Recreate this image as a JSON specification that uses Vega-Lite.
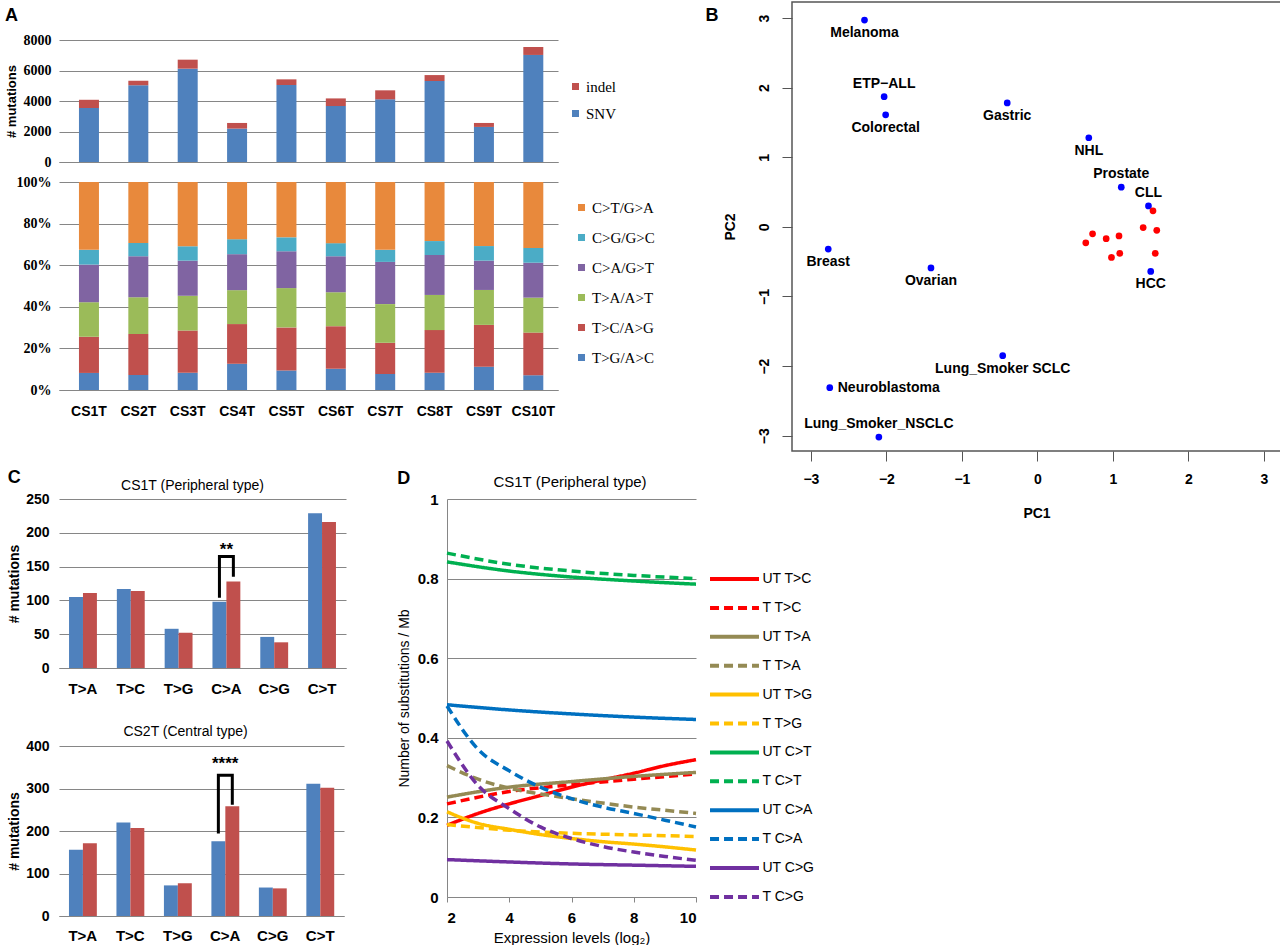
{
  "$schema": "https://vega.github.io/schema/vega-lite/v6.json",
  "background": "white",
  "padding": {"left": 5, "top": 1, "right": 0, "bottom": 0},
  "autosize": {"type": "pad"},
  "config": {
    "font": "Liberation Sans",
    "view": {"stroke": null},
    "axis": {"labelColor": "#000", "titleColor": "#000", "gridColor": "#868686", "domainColor": "#868686", "tickColor": "#868686", "labelFont": "Liberation Sans", "titleFont": "Liberation Sans"},
    "legend": {"labelColor": "#000", "labelFont": "Liberation Sans"},
    "title": {"color": "#000", "font": "Liberation Sans"}
  },
  "datasets": {
    "a_counts": [
      {"sample": "CS1T", "type": "SNV", "n": 3540, "k": 1}, {"sample": "CS1T", "type": "indel", "n": 540, "k": 2},
      {"sample": "CS2T", "type": "SNV", "n": 5030, "k": 1}, {"sample": "CS2T", "type": "indel", "n": 300, "k": 2},
      {"sample": "CS3T", "type": "SNV", "n": 6120, "k": 1}, {"sample": "CS3T", "type": "indel", "n": 590, "k": 2},
      {"sample": "CS4T", "type": "SNV", "n": 2190, "k": 1}, {"sample": "CS4T", "type": "indel", "n": 370, "k": 2},
      {"sample": "CS5T", "type": "SNV", "n": 5050, "k": 1}, {"sample": "CS5T", "type": "indel", "n": 370, "k": 2},
      {"sample": "CS6T", "type": "SNV", "n": 3670, "k": 1}, {"sample": "CS6T", "type": "indel", "n": 500, "k": 2},
      {"sample": "CS7T", "type": "SNV", "n": 4110, "k": 1}, {"sample": "CS7T", "type": "indel", "n": 590, "k": 2},
      {"sample": "CS8T", "type": "SNV", "n": 5310, "k": 1}, {"sample": "CS8T", "type": "indel", "n": 390, "k": 2},
      {"sample": "CS9T", "type": "SNV", "n": 2300, "k": 1}, {"sample": "CS9T", "type": "indel", "n": 260, "k": 2},
      {"sample": "CS10T", "type": "SNV", "n": 7020, "k": 1}, {"sample": "CS10T", "type": "indel", "n": 520, "k": 2}
    ],
    "a_spec": [
      {"sample": "CS1T", "cls": "T>G/A>C", "pct": 8.2, "k": 1}, {"sample": "CS1T", "cls": "T>C/A>G", "pct": 17.4, "k": 2}, {"sample": "CS1T", "cls": "T>A/A>T", "pct": 16.6, "k": 3}, {"sample": "CS1T", "cls": "C>A/G>T", "pct": 18.1, "k": 4}, {"sample": "CS1T", "cls": "C>G/G>C", "pct": 7.1, "k": 5}, {"sample": "CS1T", "cls": "C>T/G>A", "pct": 32.6, "k": 6},
      {"sample": "CS2T", "cls": "T>G/A>C", "pct": 7.2, "k": 1}, {"sample": "CS2T", "cls": "T>C/A>G", "pct": 19.7, "k": 2}, {"sample": "CS2T", "cls": "T>A/A>T", "pct": 17.7, "k": 3}, {"sample": "CS2T", "cls": "C>A/G>T", "pct": 19.7, "k": 4}, {"sample": "CS2T", "cls": "C>G/G>C", "pct": 6.4, "k": 5}, {"sample": "CS2T", "cls": "C>T/G>A", "pct": 29.3, "k": 6},
      {"sample": "CS3T", "cls": "T>G/A>C", "pct": 8.3, "k": 1}, {"sample": "CS3T", "cls": "T>C/A>G", "pct": 20.3, "k": 2}, {"sample": "CS3T", "cls": "T>A/A>T", "pct": 16.7, "k": 3}, {"sample": "CS3T", "cls": "C>A/G>T", "pct": 16.9, "k": 4}, {"sample": "CS3T", "cls": "C>G/G>C", "pct": 6.9, "k": 5}, {"sample": "CS3T", "cls": "C>T/G>A", "pct": 30.9, "k": 6},
      {"sample": "CS4T", "cls": "T>G/A>C", "pct": 12.6, "k": 1}, {"sample": "CS4T", "cls": "T>C/A>G", "pct": 19.1, "k": 2}, {"sample": "CS4T", "cls": "T>A/A>T", "pct": 16.3, "k": 3}, {"sample": "CS4T", "cls": "C>A/G>T", "pct": 17.3, "k": 4}, {"sample": "CS4T", "cls": "C>G/G>C", "pct": 7.2, "k": 5}, {"sample": "CS4T", "cls": "C>T/G>A", "pct": 27.5, "k": 6},
      {"sample": "CS5T", "cls": "T>G/A>C", "pct": 9.4, "k": 1}, {"sample": "CS5T", "cls": "T>C/A>G", "pct": 20.7, "k": 2}, {"sample": "CS5T", "cls": "T>A/A>T", "pct": 18.9, "k": 3}, {"sample": "CS5T", "cls": "C>A/G>T", "pct": 17.7, "k": 4}, {"sample": "CS5T", "cls": "C>G/G>C", "pct": 6.7, "k": 5}, {"sample": "CS5T", "cls": "C>T/G>A", "pct": 26.6, "k": 6},
      {"sample": "CS6T", "cls": "T>G/A>C", "pct": 10.2, "k": 1}, {"sample": "CS6T", "cls": "T>C/A>G", "pct": 20.5, "k": 2}, {"sample": "CS6T", "cls": "T>A/A>T", "pct": 16.3, "k": 3}, {"sample": "CS6T", "cls": "C>A/G>T", "pct": 17.3, "k": 4}, {"sample": "CS6T", "cls": "C>G/G>C", "pct": 6.3, "k": 5}, {"sample": "CS6T", "cls": "C>T/G>A", "pct": 29.4, "k": 6},
      {"sample": "CS7T", "cls": "T>G/A>C", "pct": 7.7, "k": 1}, {"sample": "CS7T", "cls": "T>C/A>G", "pct": 15.0, "k": 2}, {"sample": "CS7T", "cls": "T>A/A>T", "pct": 18.6, "k": 3}, {"sample": "CS7T", "cls": "C>A/G>T", "pct": 20.3, "k": 4}, {"sample": "CS7T", "cls": "C>G/G>C", "pct": 5.8, "k": 5}, {"sample": "CS7T", "cls": "C>T/G>A", "pct": 32.6, "k": 6},
      {"sample": "CS8T", "cls": "T>G/A>C", "pct": 8.3, "k": 1}, {"sample": "CS8T", "cls": "T>C/A>G", "pct": 20.5, "k": 2}, {"sample": "CS8T", "cls": "T>A/A>T", "pct": 16.9, "k": 3}, {"sample": "CS8T", "cls": "C>A/G>T", "pct": 19.2, "k": 4}, {"sample": "CS8T", "cls": "C>G/G>C", "pct": 6.7, "k": 5}, {"sample": "CS8T", "cls": "C>T/G>A", "pct": 28.4, "k": 6},
      {"sample": "CS9T", "cls": "T>G/A>C", "pct": 11.2, "k": 1}, {"sample": "CS9T", "cls": "T>C/A>G", "pct": 20.1, "k": 2}, {"sample": "CS9T", "cls": "T>A/A>T", "pct": 16.8, "k": 3}, {"sample": "CS9T", "cls": "C>A/G>T", "pct": 14.1, "k": 4}, {"sample": "CS9T", "cls": "C>G/G>C", "pct": 7.0, "k": 5}, {"sample": "CS9T", "cls": "C>T/G>A", "pct": 30.8, "k": 6},
      {"sample": "CS10T", "cls": "T>G/A>C", "pct": 7.1, "k": 1}, {"sample": "CS10T", "cls": "T>C/A>G", "pct": 20.5, "k": 2}, {"sample": "CS10T", "cls": "T>A/A>T", "pct": 16.8, "k": 3}, {"sample": "CS10T", "cls": "C>A/G>T", "pct": 16.8, "k": 4}, {"sample": "CS10T", "cls": "C>G/G>C", "pct": 7.1, "k": 5}, {"sample": "CS10T", "cls": "C>T/G>A", "pct": 31.7, "k": 6}
    ],
    "pca": [
      {"name": "Melanoma", "pc1": -2.29, "pc2": 2.97, "grp": "cancer"},
      {"name": "ETP−ALL", "pc1": -2.03, "pc2": 1.87, "grp": "cancer"},
      {"name": "Colorectal", "pc1": -2.01, "pc2": 1.61, "grp": "cancer"},
      {"name": "Gastric", "pc1": -0.40, "pc2": 1.78, "grp": "cancer"},
      {"name": "NHL", "pc1": 0.68, "pc2": 1.28, "grp": "cancer"},
      {"name": "Prostate", "pc1": 1.11, "pc2": 0.57, "grp": "cancer"},
      {"name": "CLL", "pc1": 1.47, "pc2": 0.30, "grp": "cancer"},
      {"name": "Breast", "pc1": -2.77, "pc2": -0.32, "grp": "cancer"},
      {"name": "Ovarian", "pc1": -1.41, "pc2": -0.59, "grp": "cancer"},
      {"name": "HCC", "pc1": 1.50, "pc2": -0.64, "grp": "cancer"},
      {"name": "Lung_Smoker SCLC", "pc1": -0.46, "pc2": -1.85, "grp": "cancer"},
      {"name": "Neuroblastoma", "pc1": -2.75, "pc2": -2.31, "grp": "cancer"},
      {"name": "Lung_Smoker_NSCLC", "pc1": -2.10, "pc2": -3.02, "grp": "cancer"},
      {"name": "", "pc1": 1.53, "pc2": 0.23, "grp": "CS"},
      {"name": "", "pc1": 1.40, "pc2": -0.01, "grp": "CS"},
      {"name": "", "pc1": 1.58, "pc2": -0.05, "grp": "CS"},
      {"name": "", "pc1": 0.73, "pc2": -0.10, "grp": "CS"},
      {"name": "", "pc1": 0.64, "pc2": -0.23, "grp": "CS"},
      {"name": "", "pc1": 0.91, "pc2": -0.17, "grp": "CS"},
      {"name": "", "pc1": 1.08, "pc2": -0.13, "grp": "CS"},
      {"name": "", "pc1": 1.56, "pc2": -0.38, "grp": "CS"},
      {"name": "", "pc1": 0.98, "pc2": -0.44, "grp": "CS"},
      {"name": "", "pc1": 1.09, "pc2": -0.38, "grp": "CS"}
    ],
    "c1": [
      {"cat": "T>A", "grp": "UT", "n": 105}, {"cat": "T>A", "grp": "T", "n": 111},
      {"cat": "T>C", "grp": "UT", "n": 117}, {"cat": "T>C", "grp": "T", "n": 114},
      {"cat": "T>G", "grp": "UT", "n": 58}, {"cat": "T>G", "grp": "T", "n": 52},
      {"cat": "C>A", "grp": "UT", "n": 98}, {"cat": "C>A", "grp": "T", "n": 128},
      {"cat": "C>G", "grp": "UT", "n": 46}, {"cat": "C>G", "grp": "T", "n": 38},
      {"cat": "C>T", "grp": "UT", "n": 229}, {"cat": "C>T", "grp": "T", "n": 216}
    ],
    "c1_br": [
      {"cat": "C>A", "grp": "UT", "n": 104, "s": 1}, {"cat": "C>A", "grp": "UT", "n": 165, "s": 2},
      {"cat": "C>A", "grp": "T", "n": 165, "s": 3}, {"cat": "C>A", "grp": "T", "n": 135, "s": 4}
    ],
    "c1_star": [{"cat": "C>A", "n": 167, "label": "**"}],
    "c2": [
      {"cat": "T>A", "grp": "UT", "n": 156}, {"cat": "T>A", "grp": "T", "n": 171},
      {"cat": "T>C", "grp": "UT", "n": 220}, {"cat": "T>C", "grp": "T", "n": 207},
      {"cat": "T>G", "grp": "UT", "n": 72}, {"cat": "T>G", "grp": "T", "n": 77},
      {"cat": "C>A", "grp": "UT", "n": 176}, {"cat": "C>A", "grp": "T", "n": 258},
      {"cat": "C>G", "grp": "UT", "n": 67}, {"cat": "C>G", "grp": "T", "n": 65},
      {"cat": "C>T", "grp": "UT", "n": 311}, {"cat": "C>T", "grp": "T", "n": 302}
    ],
    "c2_br": [
      {"cat": "C>A", "grp": "UT", "n": 194, "s": 1}, {"cat": "C>A", "grp": "UT", "n": 331, "s": 2},
      {"cat": "C>A", "grp": "T", "n": 331, "s": 3}, {"cat": "C>A", "grp": "T", "n": 262, "s": 4}
    ],
    "c2_star": [{"cat": "C>A", "n": 346, "label": "****"}],
    "d_lines": [
      {"series": "UT T>C", "x": 2, "y": 0.18}, {"series": "UT T>C", "x": 3, "y": 0.21}, {"series": "UT T>C", "x": 4, "y": 0.234}, {"series": "UT T>C", "x": 5, "y": 0.255}, {"series": "UT T>C", "x": 6, "y": 0.276}, {"series": "UT T>C", "x": 7, "y": 0.294}, {"series": "UT T>C", "x": 8, "y": 0.311}, {"series": "UT T>C", "x": 9, "y": 0.33}, {"series": "UT T>C", "x": 10, "y": 0.345},
      {"series": "T T>C", "x": 2, "y": 0.234}, {"series": "T T>C", "x": 4, "y": 0.265}, {"series": "T T>C", "x": 6, "y": 0.282}, {"series": "T T>C", "x": 8, "y": 0.296}, {"series": "T T>C", "x": 10, "y": 0.309},
      {"series": "UT T>A", "x": 2, "y": 0.251}, {"series": "UT T>A", "x": 4, "y": 0.276}, {"series": "UT T>A", "x": 6, "y": 0.29}, {"series": "UT T>A", "x": 8, "y": 0.303}, {"series": "UT T>A", "x": 10, "y": 0.313},
      {"series": "T T>A", "x": 2, "y": 0.33}, {"series": "T T>A", "x": 3, "y": 0.296}, {"series": "T T>A", "x": 4, "y": 0.273}, {"series": "T T>A", "x": 5, "y": 0.259}, {"series": "T T>A", "x": 6, "y": 0.247}, {"series": "T T>A", "x": 7, "y": 0.236}, {"series": "T T>A", "x": 8, "y": 0.226}, {"series": "T T>A", "x": 9, "y": 0.218}, {"series": "T T>A", "x": 10, "y": 0.21},
      {"series": "UT T>G", "x": 2, "y": 0.214}, {"series": "UT T>G", "x": 3, "y": 0.185}, {"series": "UT T>G", "x": 4, "y": 0.17}, {"series": "UT T>G", "x": 5, "y": 0.157}, {"series": "UT T>G", "x": 6, "y": 0.147}, {"series": "UT T>G", "x": 7, "y": 0.139}, {"series": "UT T>G", "x": 8, "y": 0.133}, {"series": "UT T>G", "x": 9, "y": 0.126}, {"series": "UT T>G", "x": 10, "y": 0.118},
      {"series": "T T>G", "x": 2, "y": 0.182}, {"series": "T T>G", "x": 4, "y": 0.168}, {"series": "T T>G", "x": 6, "y": 0.16}, {"series": "T T>G", "x": 8, "y": 0.156}, {"series": "T T>G", "x": 10, "y": 0.152},
      {"series": "UT C>T", "x": 2, "y": 0.842}, {"series": "UT C>T", "x": 4, "y": 0.819}, {"series": "UT C>T", "x": 6, "y": 0.804}, {"series": "UT C>T", "x": 8, "y": 0.794}, {"series": "UT C>T", "x": 10, "y": 0.786},
      {"series": "T C>T", "x": 2, "y": 0.864}, {"series": "T C>T", "x": 4, "y": 0.836}, {"series": "T C>T", "x": 6, "y": 0.819}, {"series": "T C>T", "x": 8, "y": 0.808}, {"series": "T C>T", "x": 10, "y": 0.8},
      {"series": "UT C>A", "x": 2, "y": 0.483}, {"series": "UT C>A", "x": 4, "y": 0.47}, {"series": "UT C>A", "x": 6, "y": 0.46}, {"series": "UT C>A", "x": 8, "y": 0.452}, {"series": "UT C>A", "x": 10, "y": 0.446},
      {"series": "T C>A", "x": 2, "y": 0.48}, {"series": "T C>A", "x": 3, "y": 0.371}, {"series": "T C>A", "x": 4, "y": 0.317}, {"series": "T C>A", "x": 5, "y": 0.276}, {"series": "T C>A", "x": 6, "y": 0.247}, {"series": "T C>A", "x": 7, "y": 0.226}, {"series": "T C>A", "x": 8, "y": 0.21}, {"series": "T C>A", "x": 9, "y": 0.193}, {"series": "T C>A", "x": 10, "y": 0.176},
      {"series": "UT C>G", "x": 2, "y": 0.094}, {"series": "UT C>G", "x": 4, "y": 0.088}, {"series": "UT C>G", "x": 6, "y": 0.083}, {"series": "UT C>G", "x": 8, "y": 0.08}, {"series": "UT C>G", "x": 10, "y": 0.077},
      {"series": "T C>G", "x": 2, "y": 0.392}, {"series": "T C>G", "x": 3, "y": 0.28}, {"series": "T C>G", "x": 4, "y": 0.222}, {"series": "T C>G", "x": 5, "y": 0.176}, {"series": "T C>G", "x": 6, "y": 0.147}, {"series": "T C>G", "x": 7, "y": 0.127}, {"series": "T C>G", "x": 8, "y": 0.113}, {"series": "T C>G", "x": 9, "y": 0.102}, {"series": "T C>G", "x": 10, "y": 0.092}
    ]
  },
  "spacing": 1,
  "resolve": {"scale": {"x": "independent", "y": "independent", "color": "independent", "strokeDash": "independent"}, "legend": {"color": "independent", "strokeDash": "independent"}},
  "hconcat": [
    {
      "spacing": 50,
      "resolve": {"scale": {"x": "independent", "y": "independent", "color": "independent", "strokeDash": "independent"}, "legend": {"color": "independent", "strokeDash": "independent"}},
      "vconcat": [
        {
          "title": {"text": "A", "anchor": "start", "frame": "bounds", "fontSize": 18, "fontWeight": "bold", "baseline": "alphabetic", "offset": -37, "dx": 0},
          "spacing": 20,
          "bounds": "flush",
          "resolve": {"scale": {"x": "independent", "y": "independent", "color": "independent"}, "legend": {"color": "independent"}},
          "vconcat": [
            {
              "width": 499,
              "height": 160,
              "data": {"name": "a_counts"},
              "mark": {"type": "bar"},
              "encoding": {
                "x": {"field": "sample", "type": "nominal", "sort": null, "scale": {"paddingInner": 0.595, "paddingOuter": 0.351, "align": 0.576}, "axis": {"title": null, "labels": false, "ticks": false, "domainColor": "#868686"}},
                "y": {"field": "n", "type": "quantitative", "stack": "zero", "scale": {"domain": [0, 10492], "nice": false}, "axis": {"values": [0, 2000, 4000, 6000, 8000], "format": "d", "domain": false, "ticks": false, "labelFont": "Liberation Serif", "labelFontSize": 14, "labelFontWeight": "bold", "labelPadding": 8, "title": "# mutations", "titleFontSize": 13, "titleFontWeight": "bold", "titlePadding": 5, "titleY": 99}},
                "color": {"field": "type", "type": "nominal", "scale": {"domain": ["indel", "SNV"], "range": ["#C0504D", "#4F81BD"]}, "legend": {"title": null, "orient": "none", "legendX": 509, "legendY": 77, "symbolType": "square", "symbolSize": 49, "labelFont": "Liberation Serif", "labelFontSize": 15, "rowPadding": 11, "labelOffset": 3, "padding": 0}},
                "order": {"field": "k", "type": "quantitative"}
              }
            },
            {
              "width": 499,
              "height": 208,
              "data": {"name": "a_spec"},
              "mark": {"type": "bar"},
              "encoding": {
                "x": {"field": "sample", "type": "nominal", "sort": null, "scale": {"paddingInner": 0.595, "paddingOuter": 0.351, "align": 0.576}, "axis": {"title": null, "labelAngle": 0, "ticks": false, "labelFontSize": 14, "labelFontWeight": "bold", "labelPadding": 14, "domainColor": "#868686"}},
                "y": {"field": "pct", "type": "quantitative", "stack": "normalize", "scale": {"domain": [0, 1], "nice": false}, "axis": {"values": [0, 0.2, 0.4, 0.6, 0.8, 1], "format": ".0%", "domain": false, "ticks": false, "labelFont": "Liberation Serif", "labelFontSize": 14, "labelFontWeight": "bold", "labelPadding": 8, "title": null}},
                "color": {"field": "cls", "type": "nominal", "scale": {"domain": ["C>T/G>A", "C>G/G>C", "C>A/G>T", "T>A/A>T", "T>C/A>G", "T>G/A>C"], "range": ["#E8893C", "#4BACC6", "#8064A2", "#9BBB59", "#C0504D", "#4F81BD"]}, "legend": {"title": null, "orient": "none", "legendX": 515, "legendY": 18, "symbolType": "square", "symbolSize": 49, "labelFont": "Liberation Serif", "labelFontSize": 15, "rowPadding": 14, "labelOffset": 3, "padding": 0}},
                "order": {"field": "k", "type": "quantitative"}
              }
            }
          ]
        },
        {
          "spacing": 51,
          "resolve": {"scale": {"x": "independent", "y": "independent", "color": "independent", "strokeDash": "independent"}, "legend": {"color": "independent", "strokeDash": "independent"}},
          "hconcat": [
            {
              "title": {"text": "C", "anchor": "start", "frame": "bounds", "fontSize": 18, "fontWeight": "bold", "baseline": "alphabetic", "offset": -22, "dx": 0},
              "spacing": 78,
              "bounds": "flush",
              "resolve": {"scale": {"x": "independent", "y": "independent", "color": "independent"}, "legend": {"color": "independent"}},
              "vconcat": [
                {
                  "width": 287,
                  "height": 169,
                  "title": {"text": "CS1T (Peripheral type)", "fontSize": 14, "fontWeight": "normal", "anchor": "middle", "frame": "group", "dx": -10, "offset": -11.6, "baseline": "alphabetic"},
                  "encoding": {
                    "x": {"field": "cat", "type": "nominal", "sort": ["T>A", "T>C", "T>G", "C>A", "C>G", "C>T"], "scale": {"paddingInner": 0.417, "paddingOuter": 0.21}, "axis": {"title": null, "labelAngle": 0, "ticks": false, "labelFontSize": 15, "labelFontWeight": "bold", "labelPadding": 13, "domainColor": "#868686"}},
                    "y": {"field": "n", "type": "quantitative", "scale": {"domain": [0, 250], "nice": false}, "axis": {"values": [0, 50, 100, 150, 200, 250], "domain": false, "ticks": false, "labelFontSize": 14, "labelFontWeight": "bold", "labelPadding": 10, "title": "# mutations", "titleFontSize": 14, "titleFontWeight": "bold", "titlePadding": 4}}
                  },
                  "layer": [
                    {"data": {"name": "c1"}, "mark": {"type": "bar"}, "encoding": {"xOffset": {"field": "grp", "type": "nominal", "scale": {"domain": ["UT", "T"]}}, "color": {"field": "grp", "type": "nominal", "scale": {"domain": ["UT", "T"], "range": ["#4F81BD", "#C0504D"]}, "legend": null}}},
                    {"data": {"name": "c1_br"}, "mark": {"type": "line", "color": "#000", "strokeWidth": 3}, "encoding": {"xOffset": {"field": "grp", "type": "nominal", "scale": {"domain": ["UT", "T"]}}, "order": {"field": "s", "type": "quantitative"}}},
                    {"data": {"name": "c1_star"}, "mark": {"type": "text", "fontSize": 17, "fontWeight": "bold", "baseline": "alphabetic", "color": "#000"}, "encoding": {"text": {"field": "label"}}}
                  ]
                },
                {
                  "width": 285,
                  "height": 170,
                  "title": {"text": "CS2T (Central type)", "fontSize": 14, "fontWeight": "normal", "anchor": "middle", "frame": "group", "dx": -16, "offset": -11.3, "baseline": "alphabetic"},
                  "encoding": {
                    "x": {"field": "cat", "type": "nominal", "sort": ["T>A", "T>C", "T>G", "C>A", "C>G", "C>T"], "scale": {"paddingInner": 0.417, "paddingOuter": 0.21}, "axis": {"title": null, "labelAngle": 0, "ticks": false, "labelFontSize": 15, "labelFontWeight": "bold", "labelPadding": 12, "domainColor": "#868686"}},
                    "y": {"field": "n", "type": "quantitative", "scale": {"domain": [0, 400], "nice": false}, "axis": {"values": [0, 100, 200, 300, 400], "domain": false, "ticks": false, "labelFontSize": 14, "labelFontWeight": "bold", "labelPadding": 10, "title": "# mutations", "titleFontSize": 14, "titleFontWeight": "bold", "titlePadding": 4}}
                  },
                  "layer": [
                    {"data": {"name": "c2"}, "mark": {"type": "bar"}, "encoding": {"xOffset": {"field": "grp", "type": "nominal", "scale": {"domain": ["UT", "T"]}}, "color": {"field": "grp", "type": "nominal", "scale": {"domain": ["UT", "T"], "range": ["#4F81BD", "#C0504D"]}, "legend": null}}},
                    {"data": {"name": "c2_br"}, "mark": {"type": "line", "color": "#000", "strokeWidth": 3}, "encoding": {"xOffset": {"field": "grp", "type": "nominal", "scale": {"domain": ["UT", "T"]}}, "order": {"field": "s", "type": "quantitative"}}},
                    {"data": {"name": "c2_star"}, "mark": {"type": "text", "fontSize": 17, "fontWeight": "bold", "baseline": "alphabetic", "color": "#000"}, "encoding": {"text": {"field": "label"}}}
                  ]
                }
              ]
            },
            {
              "title": {"text": "D", "anchor": "start", "frame": "bounds", "fontSize": 18, "fontWeight": "bold", "baseline": "alphabetic", "offset": -27, "dx": 0},
              "bounds": "flush",
              "resolve": {"scale": {"color": "independent", "strokeDash": "independent"}},
              "vconcat": [
                {
                  "width": 249,
                  "height": 398,
                  "title": {"text": "CS1T (Peripheral type)", "fontSize": 15, "fontWeight": "normal", "anchor": "middle", "frame": "group", "dx": -1.5, "offset": -10.2, "baseline": "alphabetic"},
                  "data": {"name": "d_lines"},
                  "mark": {"type": "line", "strokeWidth": 3.5, "interpolate": "monotone"},
                  "encoding": {
                    "x": {"field": "x", "type": "quantitative", "scale": {"domain": [2, 10], "nice": false, "zero": false}, "axis": {"values": [2, 4, 6, 8, 10], "grid": false, "domainColor": "#868686", "tickColor": "#868686", "tickSize": 5, "labelFontSize": 15, "labelFontWeight": "bold", "labelPadding": 8, "title": "Expression levels (log₂)", "titleFontSize": 15, "titleFontWeight": "normal", "titlePadding": 5}},
                    "y": {"field": "y", "type": "quantitative", "scale": {"domain": [0, 1], "nice": false}, "axis": {"values": [0, 0.2, 0.4, 0.6, 0.8, 1], "format": "~g", "domain": true, "domainColor": "#868686", "ticks": false, "tickSize": 0, "labelFontSize": 15, "labelFontWeight": "bold", "labelPadding": 9, "title": "Number of substitutions / Mb", "titleFontSize": 14, "titleFontWeight": "normal", "titlePadding": 6}},
                    "color": {"field": "series", "type": "nominal", "scale": {"domain": ["UT T>C", "T T>C", "UT T>A", "T T>A", "UT T>G", "T T>G", "UT C>T", "T C>T", "UT C>A", "T C>A", "UT C>G", "T C>G"], "range": ["#FF0000", "#FF0000", "#948A54", "#948A54", "#FFC000", "#FFC000", "#00B050", "#00B050", "#0070C0", "#0070C0", "#7030A0", "#7030A0"]}, "legend": null},
                    "strokeDash": {"field": "series", "type": "nominal", "scale": {"domain": ["UT T>C", "T T>C", "UT T>A", "T T>A", "UT T>G", "T T>G", "UT C>T", "T C>T", "UT C>A", "T C>A", "UT C>G", "T C>G"], "range": [[1, 0], [9, 5], [1, 0], [9, 5], [1, 0], [9, 5], [1, 0], [9, 5], [1, 0], [9, 5], [1, 0], [9, 5]]}, "legend": null}
                  }
                }
              ]
            }
          ]
        }
      ]
    },
    {
      "width": 489,
      "height": 449,
      "view": {"stroke": "#555555", "strokeWidth": 1.5},
      "title": {"text": "B", "anchor": "start", "frame": "bounds", "fontSize": 18, "fontWeight": "bold", "baseline": "alphabetic", "offset": -37, "dx": -9},
      "data": {"name": "pca"},
      "encoding": {
        "x": {"field": "pc1", "type": "quantitative", "scale": {"domain": [-3.25, 3.225], "nice": false, "zero": false}, "axis": {"values": [-3, -2, -1, 0, 1, 2, 3], "grid": false, "domain": false, "tickSize": 10, "tickColor": "#555555", "labelFontSize": 14, "labelFontWeight": "bold", "labelPadding": 11, "title": "PC1", "titleFontSize": 14, "titleFontWeight": "bold", "titlePadding": 20}},
        "y": {"field": "pc2", "type": "quantitative", "scale": {"domain": [-3.22, 3.23], "nice": false, "zero": false}, "axis": {"values": [-3, -2, -1, 0, 1, 2, 3], "grid": false, "domain": false, "tickSize": 10, "tickColor": "#555555", "labelAngle": 270, "labelAlign": "center", "labelBaseline": "bottom", "labelFontSize": 14, "labelFontWeight": "bold", "labelPadding": 11, "title": "PC2", "titleFontSize": 14, "titleFontWeight": "bold", "titlePadding": 20}}
      },
      "resolve": {"scale": {"color": "independent", "strokeDash": "independent"}, "legend": {"color": "independent", "strokeDash": "independent"}},
      "layer": [
        {"mark": {"type": "point", "filled": true, "size": 45, "opacity": 1}, "encoding": {"color": {"field": "grp", "type": "nominal", "scale": {"domain": ["cancer", "CS"], "range": ["#0000FF", "#FF0000"]}, "legend": null}}},
        {"transform": [{"filter": {"field": "name", "oneOf": ["Melanoma", "Colorectal", "Gastric", "NHL", "Breast", "Ovarian", "HCC", "Lung_Smoker SCLC"]}}], "mark": {"type": "text", "dy": 13, "fontSize": 14, "fontWeight": "bold", "baseline": "middle", "color": "#000"}, "encoding": {"text": {"field": "name"}}},
        {"transform": [{"filter": {"field": "name", "oneOf": ["ETP−ALL", "Prostate", "CLL", "Lung_Smoker_NSCLC"]}}], "mark": {"type": "text", "dy": -13, "fontSize": 14, "fontWeight": "bold", "baseline": "middle", "color": "#000"}, "encoding": {"text": {"field": "name"}}},
        {"transform": [{"filter": {"field": "name", "oneOf": ["Neuroblastoma"]}}], "mark": {"type": "text", "dx": 8, "align": "left", "fontSize": 14, "fontWeight": "bold", "baseline": "middle", "color": "#000"}, "encoding": {"text": {"field": "name"}}},
        {
          "transform": [{"filter": "false"}],
          "mark": {"type": "line", "strokeWidth": 3.5},
          "encoding": {
            "color": {"field": "series", "type": "nominal", "scale": {"domain": ["UT T>C", "T T>C", "UT T>A", "T T>A", "UT T>G", "T T>G", "UT C>T", "T C>T", "UT C>A", "T C>A", "UT C>G", "T C>G"], "range": ["#FF0000", "#FF0000", "#948A54", "#948A54", "#FFC000", "#FFC000", "#00B050", "#00B050", "#0070C0", "#0070C0", "#7030A0", "#7030A0"]}, "legend": {"title": null, "orient": "none", "legendX": -77.5, "legendY": 557, "symbolType": "M-1.36,0L1.36,0", "symbolSize": 1296, "symbolStrokeWidth": 4, "labelFontSize": 14, "rowPadding": 0.9, "labelOffset": 8, "padding": 0}},
            "strokeDash": {"field": "series", "type": "nominal", "scale": {"domain": ["UT T>C", "T T>C", "UT T>A", "T T>A", "UT T>G", "T T>G", "UT C>T", "T C>T", "UT C>A", "T C>A", "UT C>G", "T C>G"], "range": [[1, 0], [9, 5], [1, 0], [9, 5], [1, 0], [9, 5], [1, 0], [9, 5], [1, 0], [9, 5], [1, 0], [9, 5]]}, "legend": {"title": null, "orient": "none", "legendX": -77.5, "legendY": 557, "symbolType": "M-1.36,0L1.36,0", "symbolSize": 1296, "symbolStrokeWidth": 4, "labelFontSize": 14, "rowPadding": 0.9, "labelOffset": 8, "padding": 0}}
          }
        }
      ]
    }
  ]
}
